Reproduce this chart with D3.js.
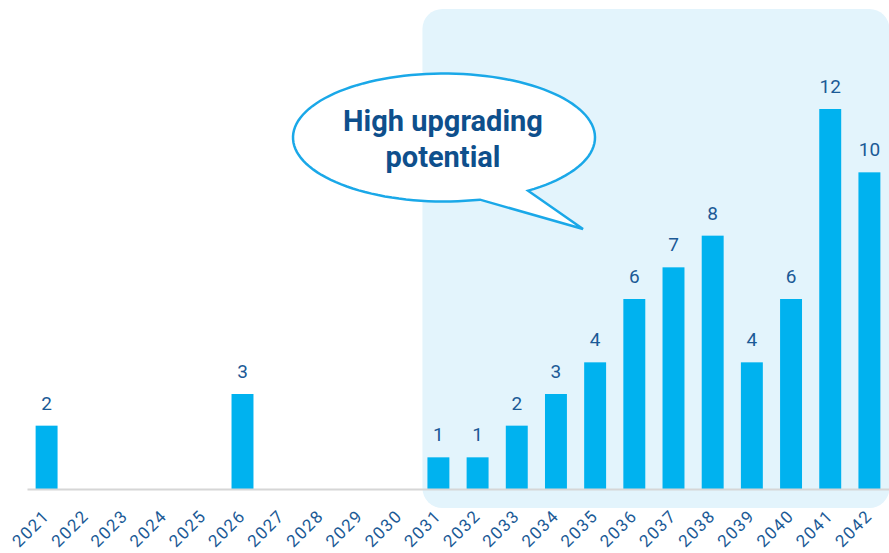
<!DOCTYPE html>
<html>
<head>
<meta charset="utf-8">
<script src="https://cdn.jsdelivr.net/npm/d3@7"></script>
<style>
  html, body { margin: 0; padding: 0; background: #fff; }
  svg { display: block; font-family: Roboto, "Noto Sans", sans-serif; }
</style>
</head>
<body>
<svg id="chart" width="889" height="553"></svg>
<script>
// Years on the x axis and the count for each year (0 = no bar)
const years = ["2021","2022","2023","2024","2025","2026","2027","2028","2029","2030","2031",
               "2032","2033","2034","2035","2036","2037","2038","2039","2040","2041","2042"];
const counts = [2,0,0,0,0,3,0,0,0,0,1,1,2,3,4,6,7,8,4,6,12,10];
// Years covered by the highlighted zone
const highlightYears = ["2031","2042"];
const calloutLines = ["High upgrading", "potential"];

const svg = d3.select("#chart");
const baseY = 489;

const x = d3.scaleBand()
  .domain(years)
  .range([27, 889])
  .paddingInner(0.44)
  .paddingOuter(0.22);

const y = d3.scaleLinear()
  .domain([0, 12])
  .range([baseY, 109]);

// Highlighted zone behind the later years
const hx0 = x(highlightYears[0]) - 5;
const hx1 = x(highlightYears[1]) + x.bandwidth() + 9;
svg.append("rect")
  .attr("x", hx0).attr("y", 9)
  .attr("width", hx1 - hx0).attr("height", 508 - 9)
  .attr("rx", 20).attr("ry", 20)
  .attr("fill", "#e3f4fc");

const data = years.map((yr, i) => ({ year: yr, value: counts[i] }));
const bars = data.filter(d => d.value > 0);

// Bars
svg.append("g").selectAll("rect")
  .data(bars)
  .join("rect")
  .attr("x", d => x(d.year))
  .attr("y", d => y(d.value))
  .attr("width", x.bandwidth())
  .attr("height", d => baseY - y(d.value))
  .attr("fill", "#00b2ef");

// Value labels above the bars
svg.append("g").selectAll("text")
  .data(bars)
  .join("text")
  .attr("x", d => x(d.year) + x.bandwidth() / 2)
  .attr("y", d => y(d.value) - 16)
  .attr("text-anchor", "middle")
  .attr("font-size", 19)
  .attr("fill", "#1b5a96")
  .text(d => d.value);

// Baseline with rotated year labels
const axis = svg.append("g").attr("transform", `translate(0,${baseY})`)
  .call(d3.axisBottom(x).tickSize(0).tickPadding(0));
axis.select(".domain").attr("stroke", "#d6d6d6").attr("stroke-width", 2);
axis.selectAll(".tick text")
  .attr("font-size", 17)
  .attr("font-family", "Roboto, sans-serif")
  .attr("letter-spacing", 1.5)
  .attr("fill", "#1b5a96")
  .attr("text-anchor", "end")
  .attr("y", 0)
  .attr("dy", null)
  .attr("transform", "translate(4,28) rotate(-45)");

// Speech bubble callout
const cx = 444, cy = 137.5, rx = 151, ry = 64;
const g = svg.append("g");
// Outline: ellipse with a tail pointing down-right
const a1 = 1.33, a2 = 0.98; // angles (radians, downward positive) where the tail leaves the ellipse
const p1 = [cx + rx * Math.cos(a1), cy + ry * Math.sin(a1)];
const p2 = [cx + rx * Math.cos(a2), cy + ry * Math.sin(a2)];
const tip = [583, 229];
const path = d3.path();
path.moveTo(p2[0], p2[1]);
path.lineTo(tip[0], tip[1]);
path.lineTo(p1[0], p1[1]);
// ellipse arc from p1 back around to p2 (long way)
const steps = 120;
for (let k = 1; k <= steps; k++) {
  const t = a1 + (2 * Math.PI - (a1 - a2)) * k / steps;
  path.lineTo(cx + rx * Math.cos(t), cy + ry * Math.sin(t));
}
path.closePath();
g.append("path")
  .attr("d", path.toString())
  .attr("fill", "#ffffff")
  .attr("stroke", "#1aa8e8")
  .attr("stroke-width", 2.5)
  .attr("stroke-linejoin", "miter");

g.selectAll("text")
  .data(calloutLines)
  .join("text")
  .attr("x", 443)
  .attr("y", (d, i) => 131 + i * 36)
  .attr("text-anchor", "middle")
  .attr("font-size", 29)
  .attr("font-weight", "bold")
  .attr("fill", "#0e4f8c")
  .text(d => d);
</script>
</body>
</html>
